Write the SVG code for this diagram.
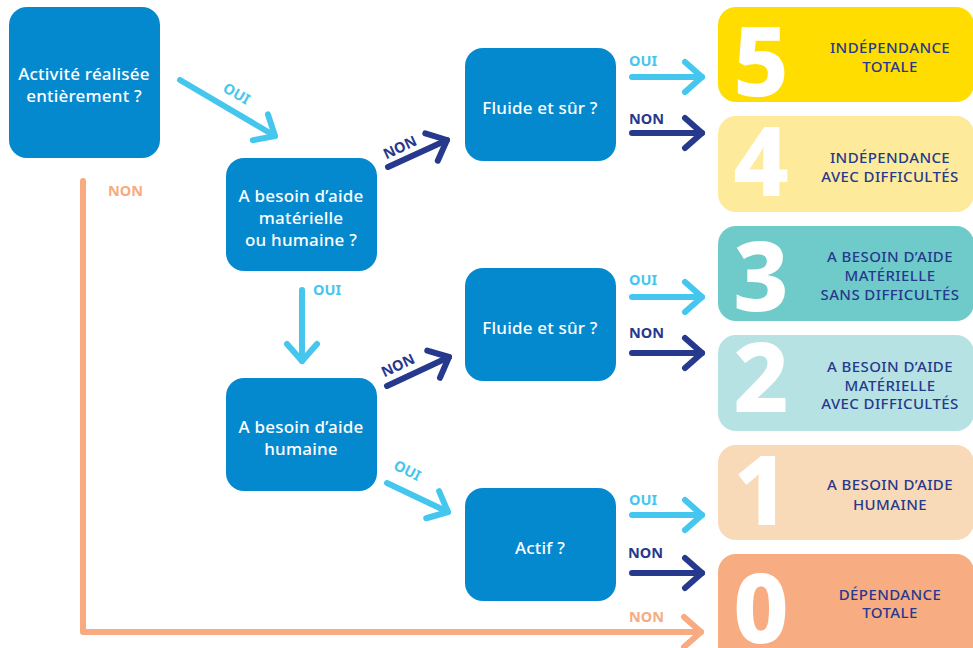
<svg xmlns="http://www.w3.org/2000/svg" width="973" height="648" viewBox="0 0 973 648">
<style>
.q{fill:#0489CF}
.qt{fill:#fff;font-family:"Noto Sans","Liberation Sans",sans-serif;font-size:17px;font-weight:500;text-anchor:middle;letter-spacing:0.2px}
.rt{fill:#26398C;font-family:"Noto Sans","Liberation Sans",sans-serif;font-size:15px;font-weight:500;text-anchor:middle;letter-spacing:0.4px}
.dg{fill:#fff;font-family:"Noto Sans","Liberation Sans",sans-serif;font-size:96px;font-weight:800;text-anchor:middle}
.lb{font-family:"Noto Sans","Liberation Sans",sans-serif;font-size:14.5px;font-weight:700}
.oui{fill:#45C6EE}.non{fill:#26398C}.nono{fill:#F8AA80}
.a{fill:none;stroke-width:6;stroke-linecap:round;stroke-linejoin:round}
.al{stroke:#45C6EE}.ad{stroke:#26398C}.ao{stroke:#F8AA80}
</style>
<defs>
<marker id="ml" viewBox="-22 -18 26 36" refX="0" refY="0" markerWidth="26" markerHeight="36" markerUnits="userSpaceOnUse" orient="auto" overflow="visible"><path d="M-17,-15 L0,0 L-17,15" class="a al"/></marker>
<marker id="md" viewBox="-22 -18 26 36" refX="0" refY="0" markerWidth="26" markerHeight="36" markerUnits="userSpaceOnUse" orient="auto" overflow="visible"><path d="M-17,-15 L0,0 L-17,15" class="a ad"/></marker>
<marker id="mo" viewBox="-22 -18 26 36" refX="0" refY="0" markerWidth="26" markerHeight="36" markerUnits="userSpaceOnUse" orient="auto" overflow="visible"><path d="M-17,-15 L0,0 L-17,15" class="a ao"/></marker>
</defs>

<g id="connectors">
<path class="a ao" d="M83,181 L83,632 L701,632" marker-end="url(#mo)"/>
<text class="lb nono" x="108" y="196">NON</text>
<text class="lb nono" x="629" y="622">NON</text>

<path class="a al" d="M180,80 L275,136" marker-end="url(#ml)"/>
<text class="lb oui" transform="translate(234,98) rotate(30)" text-anchor="middle">OUI</text>

<path class="a ad" d="M388,167 L447,140" marker-end="url(#md)"/>
<text class="lb non" transform="translate(402,152) rotate(-25)" text-anchor="middle">NON</text>

<path class="a al" d="M302,290 L302,361" marker-end="url(#ml)"/>
<text class="lb oui" x="313" y="295">OUI</text>

<path class="a ad" d="M387,386 L449,357" marker-end="url(#md)"/>
<text class="lb non" transform="translate(400,370) rotate(-25)" text-anchor="middle">NON</text>

<path class="a al" d="M387,483 L448,512" marker-end="url(#ml)"/>
<text class="lb oui" transform="translate(405,475) rotate(27)" text-anchor="middle">OUI</text>

<path class="a al" d="M632,77 L702,77" marker-end="url(#ml)"/>
<text class="lb oui" x="629" y="66">OUI</text>
<path class="a ad" d="M632,133 L702,133" marker-end="url(#md)"/>
<text class="lb non" x="629" y="124">NON</text>

<path class="a al" d="M632,297 L702,297" marker-end="url(#ml)"/>
<text class="lb oui" x="629" y="285">OUI</text>
<path class="a ad" d="M632,353 L702,353" marker-end="url(#md)"/>
<text class="lb non" x="629" y="338">NON</text>

<path class="a al" d="M632,515 L702,515" marker-end="url(#ml)"/>
<text class="lb oui" x="629" y="505">OUI</text>
<path class="a ad" d="M632,573 L702,573" marker-end="url(#md)"/>
<text class="lb non" x="628" y="558">NON</text>
</g>

<g id="q1"><rect class="q" x="9" y="7" width="151" height="151" rx="18"/>
<text class="qt" x="84" y="80">Activité réalisée</text><text class="qt" x="84" y="102">entièrement ?</text></g>
<g id="q2"><rect class="q" x="226" y="158" width="151" height="113" rx="18"/>
<text class="qt" x="301" y="202">A besoin d’aide</text><text class="qt" x="301" y="224">matérielle</text><text class="qt" x="301" y="246">ou humaine ?</text></g>
<g id="q3"><rect class="q" x="226" y="378" width="151" height="113" rx="18"/>
<text class="qt" x="301" y="433">A besoin d’aide</text><text class="qt" x="301" y="455">humaine</text></g>
<g id="q4"><rect class="q" x="465" y="48" width="151" height="113" rx="18"/>
<text class="qt" x="540" y="114">Fluide et sûr ?</text></g>
<g id="q5"><rect class="q" x="465" y="268" width="151" height="113" rx="18"/>
<text class="qt" x="540" y="334">Fluide et sûr ?</text></g>
<g id="q6"><rect class="q" x="465" y="488" width="151" height="113" rx="18"/>
<text class="qt" x="540" y="554">Actif ?</text></g>

<g id="r5"><rect x="718" y="7" width="256" height="95" rx="18" fill="#FFDD00"/>
<text class="dg" x="761" y="96">5</text>
<text class="rt" x="890" y="53">INDÉPENDANCE</text><text class="rt" x="890" y="72">TOTALE</text></g>
<g id="r4"><rect x="718" y="116" width="256" height="96" rx="18" fill="#FDEB9B"/>
<text class="dg" x="761" y="196">4</text>
<text class="rt" x="890" y="163">INDÉPENDANCE</text><text class="rt" x="890" y="182">AVEC DIFFICULTÉS</text></g>
<g id="r3"><rect x="718" y="226" width="256" height="95" rx="18" fill="#6FCBCA"/>
<text class="dg" x="761" y="311">3</text>
<text class="rt" x="890" y="262">A BESOIN D’AIDE</text><text class="rt" x="890" y="281">MATÉRIELLE</text><text class="rt" x="890" y="300">SANS DIFFICULTÉS</text></g>
<g id="r2"><rect x="718" y="335" width="256" height="96" rx="18" fill="#B7E2E3"/>
<text class="dg" x="761" y="412">2</text>
<text class="rt" x="890" y="372">A BESOIN D’AIDE</text><text class="rt" x="890" y="391">MATÉRIELLE</text><text class="rt" x="890" y="409">AVEC DIFFICULTÉS</text></g>
<g id="r1"><rect x="718" y="445" width="256" height="95" rx="18" fill="#F9DAB8"/>
<text class="dg" x="761" y="525">1</text>
<text class="rt" x="890" y="490">A BESOIN D’AIDE</text><text class="rt" x="890" y="510">HUMAINE</text></g>
<g id="r0"><rect x="718" y="554" width="256" height="110" rx="18" fill="#F8AC81"/>
<text class="dg" x="761" y="643">0</text>
<text class="rt" x="890" y="600">DÉPENDANCE</text><text class="rt" x="890" y="618">TOTALE</text></g>
</svg>
